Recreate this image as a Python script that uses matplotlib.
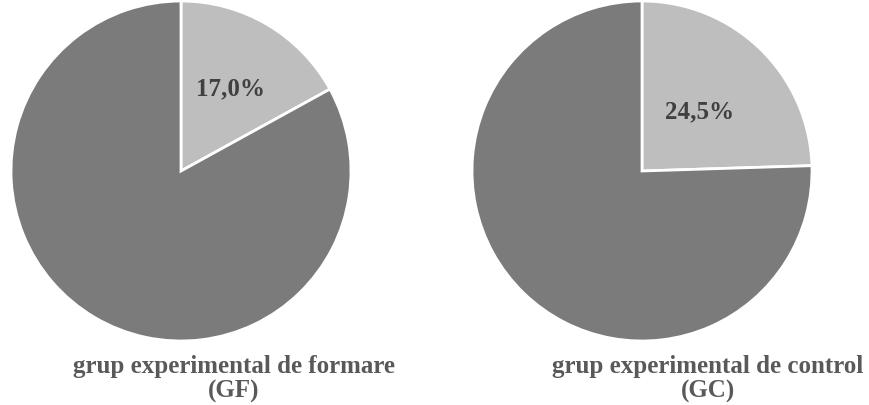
import matplotlib.pyplot as plt

plt.rcParams['font.family'] = ['Liberation Serif', 'DejaVu Serif']

groups = ['grup experimental de formare\n(GF)', 'grup experimental de control\n(GC)']
shares = [17.0, 24.5]          # highlighted slice, percent
label_dist = [0.57, 0.49]      # where the percent text sits along the radius

light = '#bebebe'
dark = '#7b7b7b'

fig = plt.figure(figsize=(8.7, 4.06), dpi=100)

pie_boxes = [[11 / 870, 64 / 406, 340 / 870, 340 / 406],
             [472 / 870, 64 / 406, 340 / 870, 340 / 406]]
title_x = [234 / 870, 708 / 870]

for i in range(2):
    ax = fig.add_axes(pie_boxes[i])
    vals = [shares[i], 100 - shares[i]]
    wedges, texts, autotexts = ax.pie(
        vals, colors=[light, dark], startangle=90, counterclock=False,
        wedgeprops=dict(edgecolor='white', linewidth=2),
        autopct=lambda p: ('%.1f%%' % p).replace('.', ',') if p < 50 else '',
        pctdistance=label_dist[i])
    for t in autotexts:
        t.set_fontsize(18)
        t.set_fontweight('bold')
        t.set_color('#404040')
    ax.set_aspect('equal')
    ax.set_xlim(-1, 1)
    ax.set_ylim(-1, 1)
    fig.text(title_x[i], 27 / 406, groups[i], ha='center', va='center',
             fontsize=18, fontweight='bold', color='#595959', linespacing=1.05)

fig.savefig('out.png', dpi=100)
